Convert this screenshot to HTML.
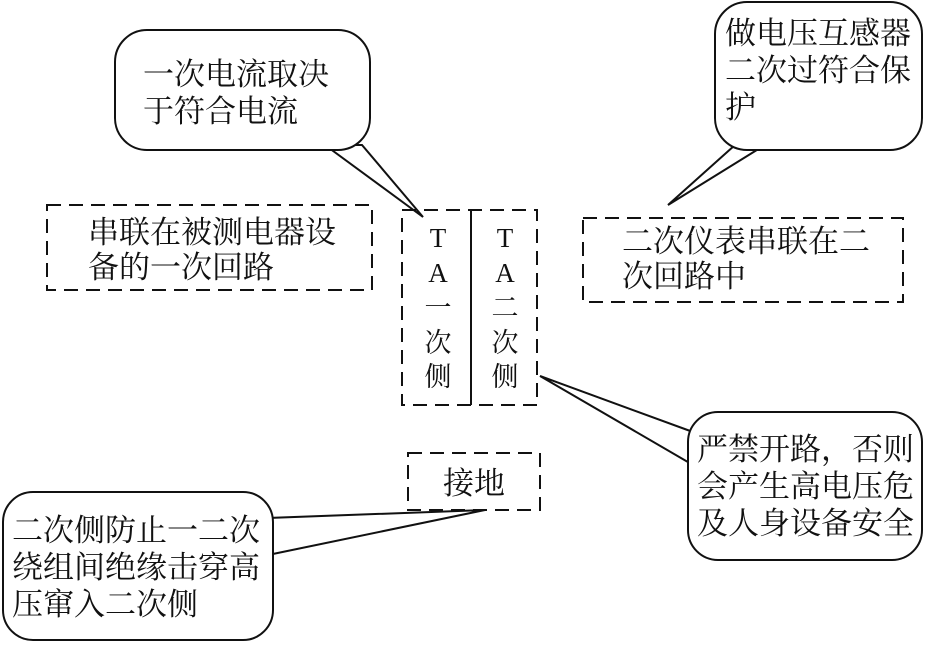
<!DOCTYPE html>
<html><head><meta charset="utf-8"><style>
html,body{margin:0;padding:0;background:#fff;}
svg{display:block;}
text{font-family:"Liberation Serif","Noto Serif CJK SC","Noto Sans CJK SC",serif;fill:#111;}
</style></head><body>
<svg width="926" height="645" viewBox="0 0 926 645" xmlns="http://www.w3.org/2000/svg">
<g stroke="#111" stroke-width="2" fill="#fff">
<!-- callout 1 -->
<polygon points="325,145 362,145 423,217"/>
<rect x="115" y="30" width="255" height="120" rx="32"/>
<!-- callout top right -->
<polygon points="735,145 765,145 668,205"/>
<rect x="715" y="2" width="207" height="148" rx="32"/>
<!-- callout bottom right -->
<polygon points="693,432 693,465 540,376"/>
<rect x="688" y="412" width="234" height="148" rx="30"/>
<!-- callout bottom left -->
<polygon points="268,518 268,555 485,510"/>
<rect x="3" y="492" width="270" height="148" rx="30"/>
</g>
<g stroke="#111" stroke-width="2" fill="none" stroke-dasharray="14,8">
<rect x="47" y="205" width="325" height="85"/>
<rect x="402" y="210" width="135" height="195"/>
<rect x="583" y="218" width="320" height="84"/>
<rect x="408" y="453" width="132" height="57"/>
</g>
<line x1="471" y1="210" x2="471" y2="405" stroke="#111" stroke-width="2"/>
<g font-size="31">
<text x="143" y="85">一次电流取决</text>
<text x="143" y="122">于符合电流</text>
<text x="725" y="44">做电压互感器</text>
<text x="725" y="81">二次过符合保</text>
<text x="725" y="118">护</text>
<text x="88" y="243">串联在被测电器设</text>
<text x="88" y="278">备的一次回路</text>
<text x="622" y="252">二次仪表串联在二</text>
<text x="622" y="287">次回路中</text>
<text x="697" y="460">严禁开路，否则</text>
<text x="697" y="497">会产生高电压危</text>
<text x="697" y="534">及人身设备安全</text>
<text x="12" y="541">二次侧防止一二次</text>
<text x="12" y="578">绕组间绝缘击穿高</text>
<text x="12" y="615">压窜入二次侧</text>
<text x="474" y="494" text-anchor="middle">接地</text>
</g>
<g font-size="27" text-anchor="middle">
<text x="438" y="247">T</text>
<text x="438" y="282">A</text>
<text x="438" y="317">一</text>
<text x="438" y="352">次</text>
<text x="438" y="386">侧</text>
<text x="505" y="247">T</text>
<text x="505" y="282">A</text>
<text x="505" y="317">二</text>
<text x="505" y="352">次</text>
<text x="505" y="386">侧</text>
</g>
</svg>
</body></html>
